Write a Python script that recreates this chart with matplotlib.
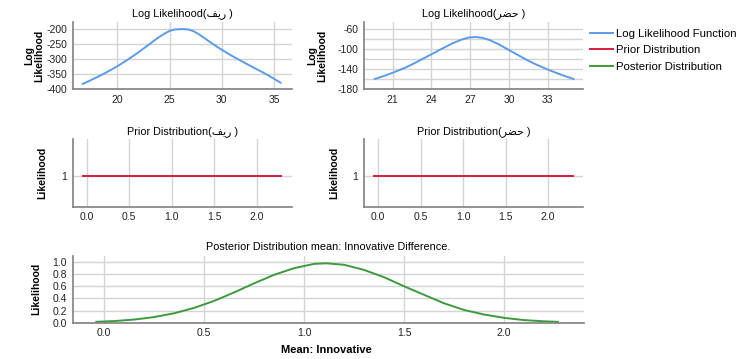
import matplotlib
matplotlib.use("Agg")
import matplotlib.pyplot as plt

plt.rcParams['font.family'] = ['Liberation Sans', 'DejaVu Sans']
plt.rcParams['axes.unicode_minus'] = False

# Arabic group names, written in presentation forms (visual order) so they show shaped
rural = "\ufed2\ufef3\ufead"   # ريف
urban = "\ufeae\ufec0\ufea3"   # حضر

# log likelihood, rural group
ll_rural_x = [16.7, 17.5, 18.5, 19.5, 20.0, 21.0, 22.0, 23.0, 23.8, 24.5, 25.0, 25.5, 26.2,
              26.8, 27.3, 27.8, 28.3, 28.9, 29.5, 30.0, 31.0, 32.0, 33.0, 34.0, 35.0, 35.6]
ll_rural_y = [-383, -370, -353, -334, -324, -302, -278, -252, -231, -215, -206, -201, -199.5,
              -201, -207, -217, -229, -244, -258, -269, -290, -309, -328, -346, -366, -379]

# log likelihood, urban group
ll_urban_x = [19.6, 20.3, 21.0, 22.0, 22.6, 23.3, 24.0, 24.8, 25.6, 26.3, 26.9, 27.4,
              27.9, 28.5, 29.2, 30.0, 30.8, 31.5, 32.2, 33.0, 34.0, 35.0]
ll_urban_y = [-160, -154, -147.5, -137, -129.5, -120, -110.5, -99.5, -89, -81.5, -77, -76,
              -77.5, -82, -90.5, -102, -113.5, -123.5, -132, -141, -151, -160]

# prior (flat)
prior_x = [-0.045, 2.29]
prior_y = [1, 1]

# posterior of the mean difference
post_x = [-0.04, 0.05, 0.15, 0.25, 0.35, 0.45, 0.55, 0.65, 0.75, 0.85, 0.95, 1.05, 1.11,
          1.2, 1.3, 1.4, 1.5, 1.6, 1.7, 1.8, 1.9, 2.0, 2.1, 2.2, 2.27]
post_y = [0.015, 0.027, 0.052, 0.093, 0.156, 0.245, 0.36, 0.50, 0.65, 0.79, 0.90, 0.97, 0.98,
          0.955, 0.87, 0.75, 0.60, 0.46, 0.32, 0.21, 0.135, 0.08, 0.043, 0.023, 0.014]

blue = '#5b9be8'
red = '#d81b3c'
green = '#3d9a3d'
grid_c = '#d4d4d4'
spine_c = '#808080'

W, H = 741, 359
fig = plt.figure(figsize=(W / 100, H / 100), dpi=100)


def px_axes(left, top, right, bottom):
    return fig.add_axes([left / W, 1 - bottom / H, (right - left) / W, (bottom - top) / H])


def style(ax):
    for s in ['top', 'right']:
        ax.spines[s].set_visible(False)
    for s in ['left', 'bottom']:
        ax.spines[s].set_color(spine_c)
        ax.spines[s].set_linewidth(1.2)
    ax.grid(True, color=grid_c, linewidth=1.0)
    ax.set_axisbelow(True)
    ax.tick_params(length=0, labelsize=7.5, colors='#222222', pad=4)


ax1 = px_axes(72.7, 22, 292, 89)
ax2 = px_axes(364, 22, 583, 89)
ax3 = px_axes(72.7, 139.3, 291.7, 206.7)
ax4 = px_axes(364, 139.3, 583, 206.7)
ax5 = px_axes(72.7, 256, 584, 322.7)

# top left
l_ll, = ax1.plot(ll_rural_x, ll_rural_y, color=blue, lw=1.4)
ax1.set_xlim(15.74, 36.7)
ax1.set_ylim(-400, -176)
ax1.set_xticks([20, 25, 30, 35])
ax1.set_yticks([-400, -350, -300, -250, -200])
ax1.set_title("Log Likelihood(" + rural + " )", fontsize=7.8, pad=4)
ax1.set_ylabel("Log\nLikelihood", fontsize=7.5, fontweight='bold', linespacing=0.95)
ax1.yaxis.set_label_coords(-0.13, 0.5)

# top right
ax2.plot(ll_urban_x, ll_urban_y, color=blue, lw=1.4)
ax2.set_xlim(18.77, 35.74)
ax2.set_ylim(-180, -46)
ax2.set_xticks([21, 24, 27, 30, 33])
ax2.set_yticks([-180, -160, -140, -120, -100, -80, -60])
ax2.set_yticklabels(['-180', '', '-140', '', '-100', '', '-60'])
ax2.set_title("Log Likelihood(" + urban + " )", fontsize=7.8, pad=4)
ax2.set_ylabel("Log\nLikelihood", fontsize=7.5, fontweight='bold', linespacing=0.95)
ax2.yaxis.set_label_coords(-0.17, 0.5)

# priors
for ax, name in [(ax3, rural), (ax4, urban)]:
    l_pr, = ax.plot(prior_x, prior_y, color=red, lw=1.4)
    ax.set_xlim(-0.165, 2.41)
    ax.set_ylim(0.54, 1.54)
    ax.set_yticks([1])
    ax.set_xticks([0.0, 0.5, 1.0, 1.5, 2.0])
    ax.set_xticklabels(['0.0', '0.5', '1.0', '1.5', '2.0'])
    ax.set_title("Prior Distribution(" + name + " )", fontsize=7.8, pad=4)
    ax.set_ylabel("Likelihood", fontsize=7.5, fontweight='bold')
    ax.yaxis.set_label_coords(-0.115, 0.5)

# posterior
l_po, = ax5.plot(post_x, post_y, color=green, lw=1.4)
ax5.set_xlim(-0.158, 2.40)
ax5.set_ylim(0, 1.10)
ax5.set_yticks([0.0, 0.2, 0.4, 0.6, 0.8, 1.0])
ax5.set_xticks([0.0, 0.5, 1.0, 1.5, 2.0])
ax5.set_xticklabels(['0.0', '0.5', '1.0', '1.5', '2.0'])
ax5.set_title("Posterior Distribution mean: Innovative Difference.", fontsize=7.8, pad=4)
ax5.set_ylabel("Likelihood", fontsize=7.5, fontweight='bold')
ax5.yaxis.set_label_coords(-0.062, 0.5)
ax5.set_xlabel("Mean: Innovative", fontsize=8, fontweight='bold')
ax5.xaxis.set_label_coords(0.497, -0.33)

for ax in [ax1, ax2, ax3, ax4, ax5]:
    style(ax)

fig.legend([l_ll, l_pr, l_po],
           ["Log Likelihood Function", "Prior Distribution", "Posterior Distribution"],
           loc='upper left', bbox_to_anchor=(590 / W, 1 - 29 / H), frameon=False,
           fontsize=8.2, handlelength=2.0, handletextpad=0.3, labelspacing=0.55,
           borderpad=0, borderaxespad=0)

fig.savefig("out.png", dpi=100)
